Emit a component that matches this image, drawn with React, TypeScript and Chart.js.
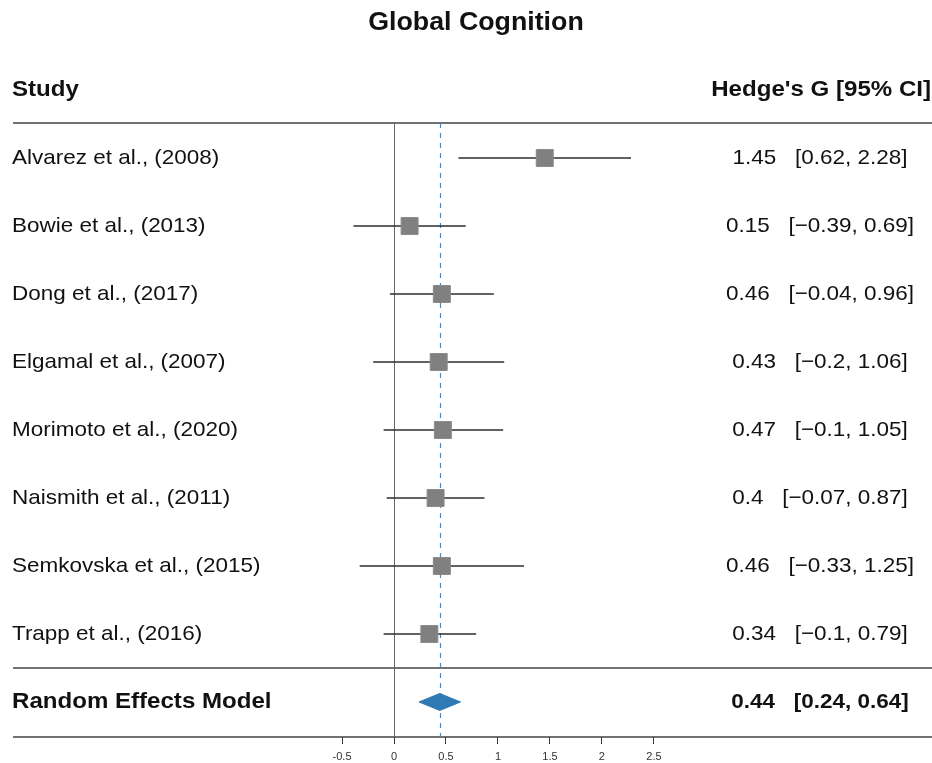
import React, { useEffect, useRef } from "react";
import { Chart, registerables } from "chart.js";

Chart.register(...registerables);

// ---------- data ----------
const chartTitle = "Global Cognition";
const leftHeader = "Study";
const rightHeader = "Hedge's G [95% CI]";

const studies = [
  "Alvarez et al., (2008)",
  "Bowie et al., (2013)",
  "Dong et al., (2017)",
  "Elgamal et al., (2007)",
  "Morimoto et al., (2020)",
  "Naismith et al., (2011)",
  "Semkovska et al., (2015)",
  "Trapp et al., (2016)",
];
const estimates = [1.45, 0.15, 0.46, 0.43, 0.47, 0.4, 0.46, 0.34];
const lowerCI = [0.62, -0.39, -0.04, -0.2, -0.1, -0.07, -0.33, -0.1];
const upperCI = [2.28, 0.69, 0.96, 1.06, 1.05, 0.87, 1.25, 0.79];

const summaryLabel = "Random Effects Model";
const summaryEstimate = 0.44;
const summaryLower = 0.24;
const summaryUpper = 0.64;

const xTickValues = [-0.5, 0, 0.5, 1, 1.5, 2, 2.5];

// ---------- helpers ----------
const FONT = "'Liberation Sans', Arial, Helvetica, sans-serif";
const SX = 1.07;
const fmt = (v: number) => String(v).replace("-", "\u2212");
const annotation = (e: number, l: number, h: number) => `${fmt(e)}   [${fmt(l)}, ${fmt(h)}]`;

function drawText(
  ctx: CanvasRenderingContext2D,
  text: string,
  x: number,
  y: number,
  font: string,
  align: CanvasTextAlign
) {
  ctx.save();
  ctx.font = font;
  ctx.fillStyle = "#111";
  ctx.textAlign = align;
  ctx.textBaseline = "middle";
  ctx.translate(x, y);
  ctx.scale(SX, 1);
  ctx.fillText(text, 0, 0);
  ctx.restore();
}

const summaryRow = studies.length;
const DIAMOND_HALF = 0.125;

const forestPlugin = {
  id: "forestDecor",
  beforeDatasetsDraw(chart: any) {
    const { ctx, chartArea, scales } = chart;
    const xs = scales.x;
    const ys = scales.y;
    ctx.save();
    ctx.strokeStyle = "#444";
    ctx.lineWidth = 1.5;
    ctx.beginPath();
    ctx.moveTo(chartArea.left, chartArea.top);
    ctx.lineTo(chart.width, chartArea.top);
    const sepY = ys.getPixelForValue(summaryRow - 0.5);
    ctx.moveTo(chartArea.left, sepY);
    ctx.lineTo(chart.width, sepY);
    ctx.moveTo(chartArea.left, chartArea.bottom);
    ctx.lineTo(chart.width, chartArea.bottom);
    ctx.stroke();
    // zero line
    const x0 = Math.round(xs.getPixelForValue(0)) + 0.5;
    ctx.strokeStyle = "#666";
    ctx.lineWidth = 1;
    ctx.beginPath();
    ctx.moveTo(x0, chartArea.top);
    ctx.lineTo(x0, chartArea.bottom);
    ctx.stroke();
    // summary dashed line
    const xs0 = Math.round(xs.getPixelForValue(summaryEstimate)) + 0.5;
    ctx.strokeStyle = "#4f86bd";
    ctx.lineWidth = 1.2;
    ctx.setLineDash([5, 5]);
    ctx.beginPath();
    ctx.moveTo(xs0, chartArea.top);
    ctx.lineTo(xs0, chartArea.bottom);
    ctx.stroke();
    ctx.restore();
  },
  afterDraw(chart: any) {
    const { ctx, scales } = chart;
    const ys = scales.y;
    drawText(ctx, chartTitle, 476, 23, `bold 25px ${FONT}`, "center");
    drawText(ctx, leftHeader, 12, 90, `bold 22.5px ${FONT}`, "left");
    drawText(ctx, rightHeader, 931, 90, `bold 22.5px ${FONT}`, "right");
    studies.forEach((s, i) => {
      const y = ys.getPixelForValue(i);
      drawText(ctx, s, 12, y, `21px ${FONT}`, "left");
      drawText(ctx, annotation(estimates[i], lowerCI[i], upperCI[i]), 820, y, `21px ${FONT}`, "center");
    });
    const sy = ys.getPixelForValue(summaryRow);
    drawText(ctx, summaryLabel, 12, sy, `bold 22.5px ${FONT}`, "left");
    drawText(
      ctx,
      annotation(summaryEstimate, summaryLower, summaryUpper),
      820,
      sy,
      `bold 21px ${FONT}`,
      "center"
    );
  },
};

export default function App() {
  const ref = useRef<HTMLCanvasElement>(null);

  useEffect(() => {
    if (!ref.current) return;
    Chart.defaults.font.family = FONT;

    const ciSets = studies.map((s, i) => ({
      type: "scatter" as const,
      label: s,
      data: [
        { x: lowerCI[i], y: i },
        { x: upperCI[i], y: i },
      ],
      showLine: true,
      borderColor: "#2e2e2e",
      borderWidth: 1.3,
      pointRadius: 0,
      order: 3,
    }));

    const squares = {
      type: "scatter" as const,
      label: "estimates",
      data: estimates.map((e, i) => ({ x: e, y: i })),
      pointStyle: "rect" as const,
      pointRadius: 12,
      backgroundColor: "#808080",
      borderColor: "#8a8a8a",
      borderWidth: 1,
      showLine: false,
      order: 1,
    };

    const diamond = {
      type: "scatter" as const,
      label: "summary",
      data: [
        { x: summaryLower, y: summaryRow },
        { x: summaryEstimate, y: summaryRow - DIAMOND_HALF },
        { x: summaryUpper, y: summaryRow },
        { x: summaryEstimate, y: summaryRow + DIAMOND_HALF },
        { x: summaryLower, y: summaryRow },
      ],
      showLine: true,
      fill: "shape" as any,
      backgroundColor: "#2f7ab5",
      borderColor: "#2f7ab5",
      borderWidth: 1,
      pointRadius: 0,
      tension: 0,
      order: 0,
    };

    const chart = new Chart(ref.current, {
      type: "scatter",
      data: { datasets: [...ciSets, squares, diamond] as any },
      plugins: [forestPlugin],
      options: {
        animation: false,
        responsive: true,
        maintainAspectRatio: false,
        events: [],
        layout: { padding: { left: 11, top: 123, right: 0, bottom: 0 } },
        plugins: {
          legend: { display: false },
          tooltip: { enabled: false },
          title: { display: false },
        },
        scales: {
          x: {
            type: "linear",
            min: -3.665,
            max: 5.05,
            afterBuildTicks: (scale: any) => {
              scale.ticks = xTickValues.map((v) => ({ value: v }));
            },
            afterFit: (scale: any) => {
              scale.height = 26;
            },
            ticks: {
              autoSkip: false,
              maxRotation: 0,
              padding: 6,
              color: "#333",
              font: { size: 11, family: FONT },
              callback: (v: any) => String(v),
            },
            grid: {
              drawOnChartArea: false,
              drawTicks: true,
              tickLength: 7,
              color: "#333",
            },
            border: { display: false },
          },
          y: {
            type: "linear",
            display: false,
            reverse: true,
            min: -0.515,
            max: summaryRow + 0.515,
          },
        },
      } as any,
    });
    return () => chart.destroy();
  }, []);

  return (
    <div style={{ position: "absolute", left: 0, top: 0, width: 932, height: 763, background: "#fff" }}>
      <canvas ref={ref} />
    </div>
  );
}
